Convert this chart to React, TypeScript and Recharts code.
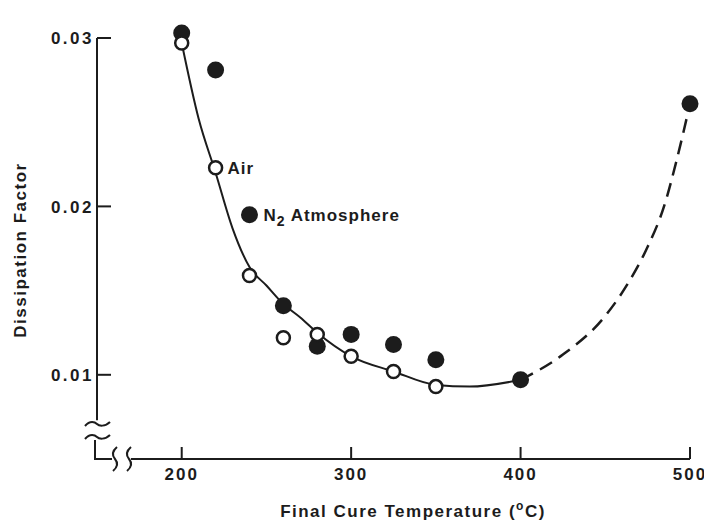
import { ComposedChart, Line, Scatter, XAxis, YAxis, ReferenceLine, ReferenceDot } from 'recharts';

// final cure temperature (°C) and measured dissipation factor
const n2Temps = [200, 220, 240, 260, 280, 300, 325, 350, 400, 500];
const n2Factor = [0.0303, 0.0281, 0.0195, 0.0141, 0.0117, 0.0124, 0.0118, 0.0109, 0.0097, 0.0261];
const n2Notes = ['', '', 'Atmosphere', '', '', '', '', '', '', ''];

const airTemps = [200, 220, 240, 260, 280, 300, 325, 350];
const airFactor = [0.0297, 0.0223, 0.0159, 0.0122, 0.0124, 0.0111, 0.0102, 0.0093];
const airNotes = ['', 'Air', '', '', '', '', '', ''];

// fitted trend: solid where measured, dashed extrapolation past 400
const fitTemps = [200, 210, 220, 230, 240, 250, 260, 270, 280, 300, 325, 350, 370, 400];
const fitFactor = [0.0297, 0.0252, 0.0220, 0.0187, 0.0164, 0.0153, 0.0142, 0.0134, 0.0125, 0.0111, 0.0102, 0.0094, 0.0093, 0.0097];
const extTemps = [400, 425, 450, 465, 475, 485, 492, 500];
const extFactor = [0.0097, 0.0112, 0.0135, 0.0157, 0.0176, 0.0201, 0.0227, 0.0261];

const xTicks = [200, 300, 400, 500];
const yTicks = [0.01, 0.02, 0.03];

const zip = (xs: number[], ys: number[], notes?: string[]) =>
  xs.map((x, i) => ({ x, y: ys[i], note: notes ? notes[i] : '' }));

const n2Data = zip(n2Temps, n2Factor, n2Notes);
const airData = zip(airTemps, airFactor, airNotes);
const fitData = zip(fitTemps, fitFactor);
const extData = zip(extTemps, extFactor);

const INK = '#1c1c1c';
const FONT = '"Liberation Sans", Arial, sans-serif';
const textStyle = { fontFamily: FONT, fontWeight: 700, fill: INK } as const;

function XTick({ x, y, payload }: any) {
  return (
    <g>
      <line x1={x} x2={x} y1={y} y2={y - 12} stroke={INK} strokeWidth={2} />
      <text x={x} y={y + 21} textAnchor="middle" fontSize={17} letterSpacing={2} {...textStyle}>
        {payload.value}
      </text>
    </g>
  );
}

function YTick({ x, y, payload }: any) {
  return (
    <g>
      <line x1={x} x2={x + 14} y1={y} y2={y} stroke={INK} strokeWidth={2} />
      <text x={x - 3} y={y} dy="0.36em" textAnchor="end" fontSize={17} letterSpacing={2.5} {...textStyle}>
        {payload.value.toFixed(2)}
      </text>
    </g>
  );
}

// axis break marks drawn around the corner where the two axes meet
function BreakMarks({ cx, cy }: any) {
  const wave = (x0: number) =>
    `M${x0 + 2},${cy - 12} Q${x0 - 5},${cy - 6} ${x0},${cy} Q${x0 + 5},${cy + 6} ${x0 - 2},${cy + 12}`;
  const tilde = (y0: number) =>
    `M${cx - 12},${y0 + 2} C${cx - 7},${y0 - 4} ${cx - 2},${y0 - 2} ${cx},${y0} S${cx + 8},${y0 + 3} ${cx + 13},${y0 - 2}`;
  return (
    <g fill="none" stroke={INK} strokeWidth={2}>
      <path d={tilde(cy - 35)} />
      <path d={tilde(cy - 22)} />
      <path d={`M${cx - 2},${cy - 19} V${cy} H${cx + 15}`} />
      <path d={wave(cx + 18)} />
      <path d={wave(cx + 32)} />
    </g>
  );
}

function FilledDot({ cx, cy, payload }: any) {
  return (
    <g>
      <circle cx={cx} cy={cy} r={8.5} fill={INK} />
      {payload.note && (
        <text x={cx + 14} y={cy} dy="0.36em" fontSize={17} letterSpacing={1} {...textStyle}>
          N
          <tspan dy={5} fontSize={14}>2</tspan>
          <tspan dy={-5}> {payload.note}</tspan>
        </text>
      )}
    </g>
  );
}

function OpenDot({ cx, cy, payload }: any) {
  return (
    <g>
      <circle cx={cx} cy={cy} r={6.5} fill="#fff" stroke={INK} strokeWidth={2.5} />
      {payload.note && (
        <text x={cx + 12} y={cy} dy="0.36em" fontSize={17} letterSpacing={1} {...textStyle}>
          {payload.note}
        </text>
      )}
    </g>
  );
}

export default function App() {
  return (
    <div style={{ position: 'absolute', left: 0, top: 0, width: 704, height: 522, background: '#fff' }}>
      <ComposedChart width={704} height={522} margin={{ top: 21.16, right: 14, bottom: 0, left: 0 }}>
        <XAxis
          type="number"
          dataKey="x"
          domain={[150, 500]}
          ticks={xTicks}
          axisLine={false}
          tickLine={false}
          tickSize={0}
          tickMargin={0}
          height={63}
          tick={<XTick />}
          label={{
            content: () => (
              <text x={413} y={517} textAnchor="middle" fontSize={17} letterSpacing={1.5} {...textStyle}>
                Final Cure Temperature (
                <tspan dy={-7} fontSize={12}>o</tspan>
                <tspan dy={7}>C)</tspan>
              </text>
            ),
          }}
        />
        <YAxis
          type="number"
          dataKey="y"
          domain={[0.005, 0.031]}
          ticks={yTicks}
          axisLine={false}
          tickLine={false}
          tickSize={0}
          tickMargin={0}
          width={97}
          tick={<YTick />}
          label={{
            content: () => (
              <text
                x={20}
                y={250}
                transform="rotate(-90 20 250)"
                textAnchor="middle"
                dy="0.36em"
                fontSize={17}
                letterSpacing={1.5}
                {...textStyle}
              >
                Dissipation Factor
              </text>
            ),
          }}
        />
        <ReferenceLine
          segment={[{ x: 150, y: 0.03 }, { x: 150, y: 0.0073 }]}
          stroke={INK}
          strokeWidth={2}
          ifOverflow="visible"
        />
        <ReferenceLine
          segment={[{ x: 170, y: 0.005 }, { x: 500, y: 0.005 }]}
          stroke={INK}
          strokeWidth={2}
          ifOverflow="visible"
        />
        <ReferenceDot x={150} y={0.005} r={0} ifOverflow="visible" shape={<BreakMarks />} />
        <Line
          data={fitData}
          dataKey="y"
          type="monotone"
          stroke={INK}
          strokeWidth={2}
          dot={false}
          activeDot={false}
          isAnimationActive={false}
        />
        <Line
          data={extData}
          dataKey="y"
          type="monotone"
          stroke={INK}
          strokeWidth={2.5}
          strokeDasharray="14 8"
          dot={false}
          activeDot={false}
          isAnimationActive={false}
        />
        <Scatter data={n2Data} dataKey="y" shape={<FilledDot />} isAnimationActive={false} />
        <Scatter data={airData} dataKey="y" shape={<OpenDot />} isAnimationActive={false} />
      </ComposedChart>
    </div>
  );
}
